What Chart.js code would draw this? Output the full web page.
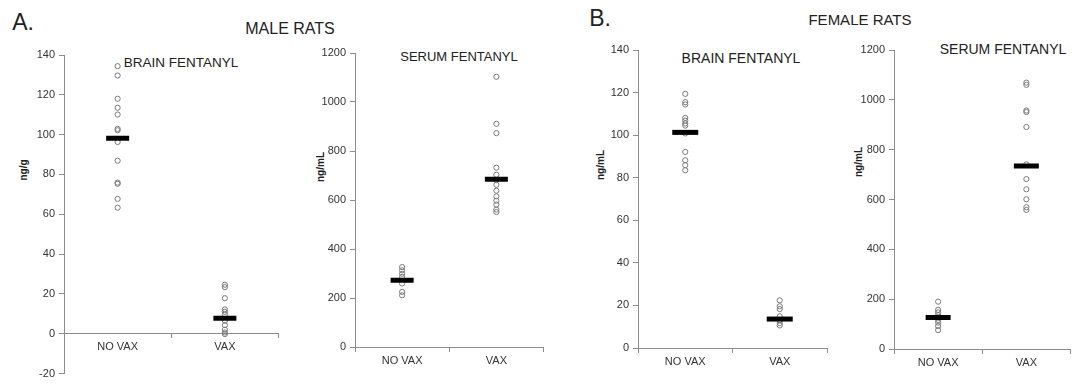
<!DOCTYPE html>
<html>
<head>
<meta charset="utf-8">
<script src="https://cdn.jsdelivr.net/npm/chart.js@4/dist/chart.umd.min.js"></script>
<style>
  html, body { margin: 0; padding: 0; background: #fff; }
  #wrap { position: relative; width: 1088px; height: 390px; overflow: hidden; font-family: "Liberation Sans", Arial, sans-serif; color: #222; }
  .box { position: absolute; top: 0; height: 390px; }
  .txt { position: absolute; white-space: nowrap; transform: translate(-50%, -50%); }
  .ylab { position: absolute; white-space: nowrap; font-weight: bold; font-size: 10px; transform: translate(-50%, -50%) rotate(-90deg); }
</style>
</head>
<body>
<div id="wrap">
  <div class="txt" style="left:23px;top:22px;font-size:23px;">A.</div>
  <div class="txt" style="left:290px;top:29px;font-size:16px;">MALE RATS</div>
  <div class="txt" style="left:600px;top:18px;font-size:23px;">B.</div>
  <div class="txt" style="left:860px;top:19px;font-size:15px;">FEMALE RATS</div>

  <div class="txt" style="left:181px;top:62px;font-size:13.5px;">BRAIN FENTANYL</div>
  <div class="txt" style="left:459px;top:56px;font-size:13px;">SERUM FENTANYL</div>
  <div class="txt" style="left:741px;top:58px;font-size:14px;">BRAIN FENTANYL</div>
  <div class="txt" style="left:1003px;top:49px;font-size:14px;">SERUM FENTANYL</div>

  <div class="ylab" style="left:23px;top:170px;">ng/g</div>
  <div class="ylab" style="left:320px;top:167px;">ng/mL</div>
  <div class="ylab" style="left:600px;top:165px;">ng/mL</div>
  <div class="ylab" style="left:858px;top:162px;">ng/mL</div>

  <div class="box" style="left:0px;width:295px;"><canvas id="c1"></canvas></div>
  <div class="box" style="left:295px;width:265px;"><canvas id="c2"></canvas></div>
  <div class="box" style="left:560px;width:285px;"><canvas id="c3"></canvas></div>
  <div class="box" style="left:845px;width:243px;"><canvas id="c4"></canvas></div>
</div>
<script>
// groupes
const groups = ['NO VAX', 'VAX'];

// rats mâles - cerveau (ng/g)
const maleBrainNoVax = [134.4, 129.7, 118.0, 113.5, 110.1, 102.9, 102.2, 96.3, 86.9, 75.9, 75.3, 67.7, 63.3];
const maleBrainVax = [24.6, 23.4, 17.8, 12.2, 11.0, 9.6, 6.5, 4.3, 2.0, 0.6, -0.2];
const maleBrainMean = [98.2, 7.7];

// rats mâles - sérum (ng/mL)
const maleSerumNoVax = [326, 313, 299, 286, 259, 225, 211];
const maleSerumVax = [1103, 911, 873, 732, 703, 681, 662, 638, 615, 597, 581, 561, 551];
const maleSerumMean = [272, 685];

// rats femelles - cerveau (ng/mL)
const femaleBrainNoVax = [119.4, 115.5, 114.4, 108.1, 106.8, 105.5, 104.5, 100.8, 92.1, 88.2, 85.9, 83.5];
const femaleBrainVax = [22.4, 19.6, 18.3, 14.9, 13.0, 11.7, 10.6];
const femaleBrainMean = [101.3, 13.6];

// rats femelles - sérum (ng/mL)
const femaleSerumNoVax = [190, 157, 147, 136, 116, 106, 92, 76];
const femaleSerumVax = [1069, 1060, 957, 951, 891, 741, 682, 641, 601, 569, 558];
const femaleSerumMean = [126, 734];

// ticks axe y
const brainTicks = { min: -20, max: 140, step: 20 };
const brainTicksF = { min: 0, max: 140, step: 20 };
const serumTicks = { min: 0, max: 1200, step: 200 };

const axisGrey = '#8c8c8c';
const tickFont = { family: 'Liberation Sans, Arial, sans-serif', size: 11 };

function pts(group, values) {
    return values.map(v => ({ x: group, y: v }));
}

// construction d'un panneau
function buildPanel(id, noVax, vax, mean, ticks, padding, meanRadius) {
    const canvas = document.getElementById(id);
    return new Chart(canvas, {
        type: 'scatter',
        data: {
            datasets: [
                {
                    data: [{ x: groups[0], y: mean[0] }, { x: groups[1], y: mean[1] }],
                    pointStyle: 'line',
                    pointRadius: meanRadius,
                    pointBorderWidth: 5,
                    pointBorderColor: '#000',
                    borderColor: '#000'
                },
                {
                    data: pts(groups[0], noVax).concat(pts(groups[1], vax)),
                    pointStyle: 'circle',
                    pointRadius: 2.6,
                    pointBorderWidth: 1,
                    pointBorderColor: '#7a7a7a',
                    pointBackgroundColor: 'rgba(255,255,255,0)'
                }
            ]
        },
        options: {
            responsive: true,
            maintainAspectRatio: false,
            animation: false,
            layout: { padding: padding },
            plugins: { legend: { display: false }, tooltip: { enabled: false } },
            scales: {
                x: {
                    type: 'category',
                    labels: groups,
                    offset: true,
                    // axe x toujours à la valeur 0
                    position: { y: 0 },
                    grid: { offset: true, drawOnChartArea: false, tickLength: 4, color: axisGrey, tickColor: axisGrey },
                    border: { display: true, color: axisGrey, width: 1 },
                    ticks: { color: '#333', font: tickFont, padding: 3, maxRotation: 0 },
                    afterFit: (scale) => { scale.height = 0; }
                },
                y: {
                    min: ticks.min,
                    max: ticks.max,
                    grid: { drawOnChartArea: false, tickLength: 5, color: axisGrey, tickColor: axisGrey },
                    border: { display: true, color: axisGrey, width: 1 },
                    ticks: {
                        stepSize: ticks.step, color: '#333', font: tickFont, padding: 4,
                        callback: (value) => String(value)
                    },
                    afterFit: (scale) => { scale.width = 45; }
                }
            }
        }
    });
}

buildPanel('c1', maleBrainNoVax, maleBrainVax, maleBrainMean, brainTicks,
    { left: 19, right: 10, top: 55, bottom: 7 }, 11.5);
buildPanel('c2', maleSerumNoVax, maleSerumVax, maleSerumMean, serumTicks,
    { left: 15, right: 11, top: 53, bottom: 43 }, 11.5);
buildPanel('c3', femaleBrainNoVax, femaleBrainVax, femaleBrainMean, brainTicksF,
    { left: 33, right: 5, top: 50, bottom: 42 }, 13);
buildPanel('c4', femaleSerumNoVax, femaleSerumVax, femaleSerumMean, serumTicks,
    { left: 4, right: 0, top: 50, bottom: 41 }, 12.5);
</script>
</body>
</html>
